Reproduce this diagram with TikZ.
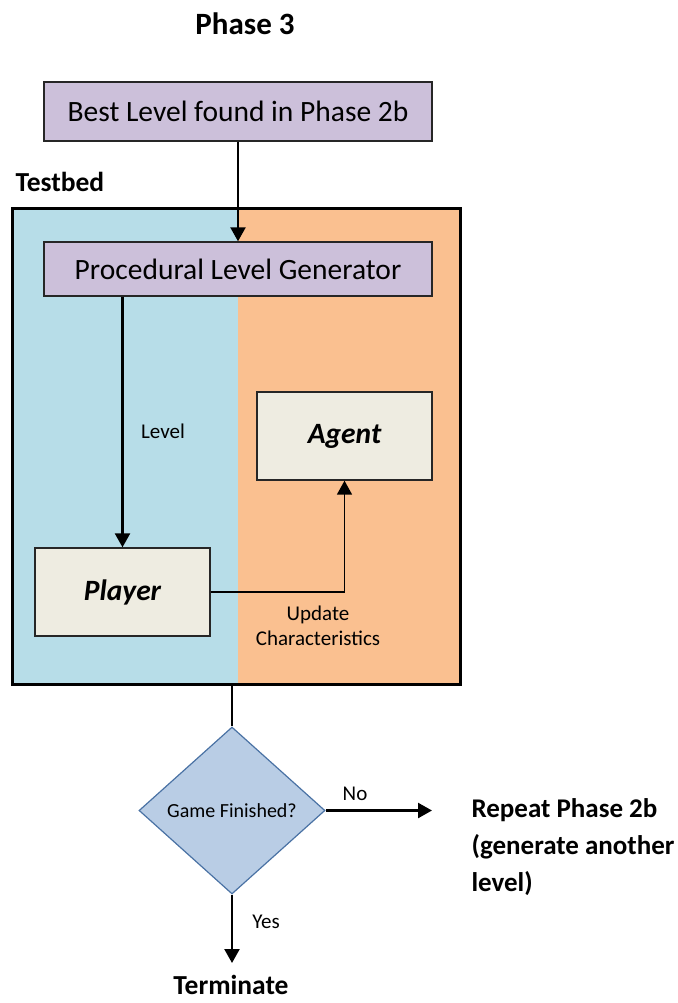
\documentclass[tikz,border=0pt]{standalone}
\usepackage{fontspec}
\setmainfont{Carlito}
\usepackage{tikz}
\usetikzlibrary{arrows.meta, positioning, shapes.geometric}
\usepackage{xcolor}
\definecolor{lilac}{HTML}{CCC0DA}
\definecolor{beige}{HTML}{EEECE1}
\definecolor{skyblue}{HTML}{B7DDE8}
\definecolor{peach}{HTML}{FAC090}
\definecolor{steel}{HTML}{B9CDE5}
\definecolor{steeledge}{HTML}{4A72A4}

\begin{document}
\begin{tikzpicture}[x=1pt, y=-1pt,
    box/.style={draw=black!85, line width=1.4pt, fill=lilac,
      minimum width=388pt, minimum height=54pt, font=\fontsize{29.5}{34}\selectfont},
    actor/.style={draw=black!85, line width=1.4pt, fill=beige,
      minimum width=175pt, minimum height=88pt, font=\fontsize{29.5}{34}\selectfont\bfseries\itshape},
    flow/.style={line width=2.4pt, -{Triangle[length=14pt, width=15pt]}},
    lbl/.style={font=\fontsize{21}{25}\selectfont},
    head/.style={font=\fontsize{27.5}{32}\selectfont\bfseries}]
      \useasboundingbox (0,0) rectangle (677,1003);
      \node[head, font=\fontsize{31}{36}\selectfont\bfseries, anchor=base] (title) at (245,35) {Phase 3};
      \node[box, minimum height=59pt] (best) at (238,111.5) {Best Level found in Phase 2b};
      \node[head, anchor=base west] (testbedlbl) at (12,192) {Testbed};
      % testbed halves
      \fill[skyblue] (12,208) rectangle (238,684);
      \fill[peach] (238,208) rectangle (460,684);
      \node[draw, line width=3pt, minimum width=448pt, minimum height=476pt] (testbed) at (236,446) {};
      \node[box] (plg) at (238,269) {Procedural Level Generator};
      \node[actor] (agent) at (344.5,436) {Agent};
      \node[actor] (player) at (122.5,592) {Player};
      \node[lbl, anchor=base] (levellbl) at (163,438) {Level};
      \node[lbl, align=center] (updatelbl) at (318,626)
        {Update\\Characteristics};
      % decision
      \node[diamond, draw=steeledge, line width=1.2pt, fill=steel, inner sep=0pt,
        minimum width=186pt, minimum height=167pt, lbl, font=\fontsize{20}{24}\selectfont] (game) at (232,810.5) {Game Finished?};
      \node[lbl, anchor=base] (nolbl) at (355,800) {No};
      \node[lbl, anchor=base] (yeslbl) at (266,928) {Yes};
      \node[head, font=\fontsize{27}{37}\selectfont\bfseries, align=left, anchor=west] (repeat) at (468,847)
        {Repeat Phase 2b\\(generate another\\level)};
      \node[head, anchor=base, inner sep=0pt] (terminate) at (231,994) {Terminate};
      \coordinate (noend) at (432,810.5);
      \coordinate (yesend) at (232,963);
      % connectors
      \draw[flow] (best) -- (plg);
      \draw[flow] (player.north |- plg.south) -- (player.north);
      \draw[flow, line width=1.8pt] (player.east) -| (agent.south);
      \draw[line width=1.2pt] (game.north |- testbed.south) -- (game.north);
      \draw[flow] (game.east) -- (noend);
      \draw[flow] (game.south) -- (yesend);
    \end{tikzpicture}
\end{document}
